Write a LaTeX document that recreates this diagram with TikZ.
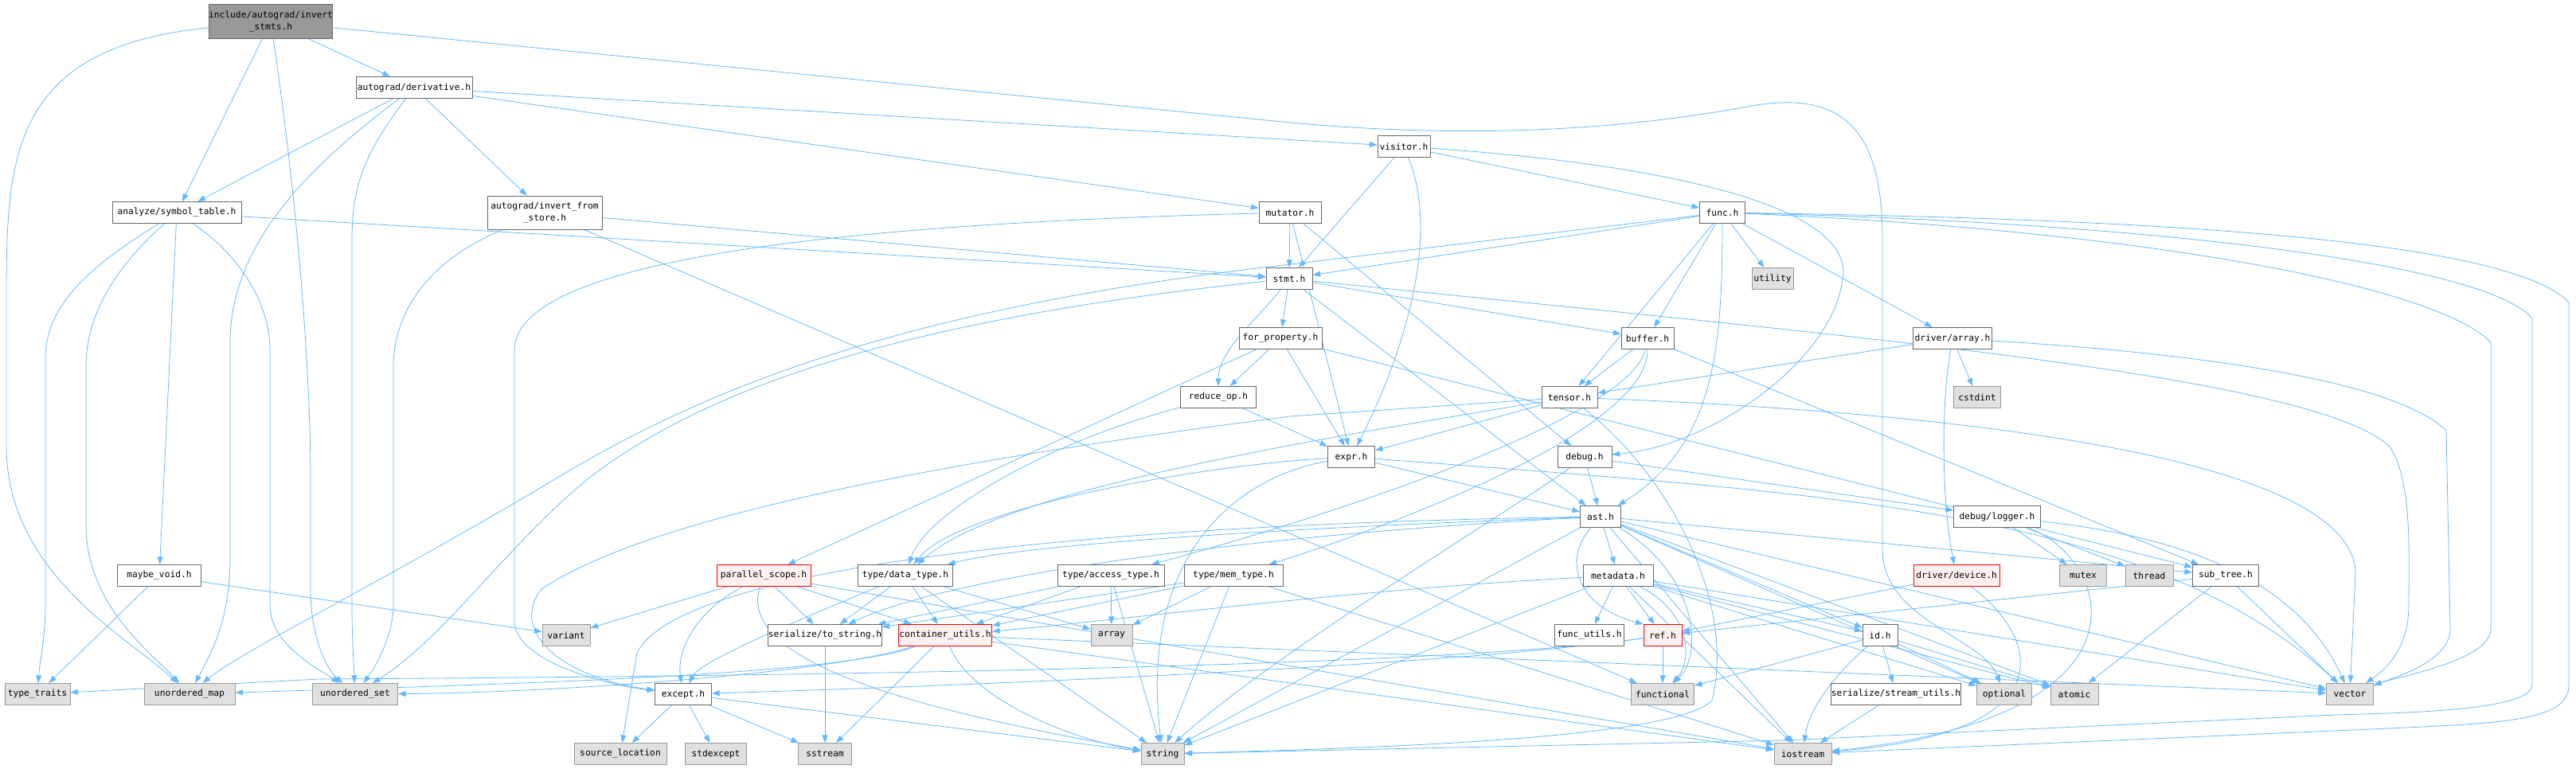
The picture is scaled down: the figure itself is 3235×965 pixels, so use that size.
\documentclass[tikz,border=0pt]{standalone}
\usepackage{fontspec}
\usepackage{tikz}
\usetikzlibrary{arrows.meta, backgrounds}
\newfontfamily\doxfont{DejaVu Sans Mono}
\definecolor{depblue}{HTML}{63B8FF}
\definecolor{boxline}{HTML}{666666}
\definecolor{sysline}{HTML}{999999}
\definecolor{sysfill}{HTML}{E0E0E0}
\definecolor{rootfill}{HTML}{999999}
\definecolor{hotfill}{HTML}{FFF0F0}

\begin{document}
\begin{tikzpicture}[x=0.02cm, y=-0.02cm,
    file/.style={draw=boxline, fill=white, line width=0.5pt, inner sep=0pt,
        minimum height=0.54cm, align=center, font=\doxfont\fontsize{6.4}{8.6}\selectfont},
    bw/.style={minimum width=#1*0.02cm},
    sys/.style={file, draw=sysline, fill=sysfill},
    hot/.style={file, draw=red, fill=hotfill},
    root/.style={file, fill=rootfill, minimum height=0.86cm},
    dep/.style={-{Triangle[length=5.5pt, width=4pt]}, draw=depblue, line width=0.45pt}]
    \useasboundingbox (0,0) rectangle (3235,965);

    % Top part
    \node[root, bw=155] (root) at (340,27) {include/autograd/invert\\\_stmts.h};
    \node[file, bw=146] (deriv) at (520,110) {autograd/derivative.h};
    \node[file, bw=66] (visitor) at (1763,184) {visitor.h};
    \node[file, bw=162] (symtab) at (222,267) {analyze/symbol\_table.h};
    \node[file, bw=144, minimum height=0.84cm] (invstore) at (684,267) {autograd/invert\_from\\\_store.h};
    \node[file, bw=78] (mutator) at (1620,267) {mutator.h};
    \node[file, bw=57] (func) at (2163,267) {func.h};
    \node[file, bw=58] (stmt) at (1619,350) {stmt.h};
    \node[sys, bw=52] (utility) at (2226,350) {utility};
    \node[file, bw=104] (forprop) at (1608,425) {for\_property.h};
    \node[file, bw=66] (buffer) at (2069,425) {buffer.h};
    \node[file, bw=99] (drvarray) at (2452,425) {driver/array.h};

    % Middle part
    \node[file, bw=95] (reduceop) at (1530,499) {reduce\_op.h};
    \node[file, bw=70] (tensor) at (1971,499) {tensor.h};
    \node[sys, bw=59] (cstdint) at (2483,499) {cstdint};
    \node[file, bw=59] (expr) at (1697,574) {expr.h};
    \node[file, bw=68] (debug) at (1990,574) {debug.h};
    \node[file, bw=51] (ast) at (2010,649) {ast.h};
    \node[file, bw=109] (logger) at (2508,649) {debug/logger.h};
    \node[file, bw=105] (maybevoid) at (200,723) {maybe\_void.h};
    \node[hot, bw=118] (parscope) at (959,723) {parallel\_scope.h};
    \node[file, bw=119] (datatype) at (1137,723) {type/data\_type.h};
    \node[file, bw=134] (accesstype) at (1395,723) {type/access\_type.h};
    \node[file, bw=124] (memtype) at (1549,723) {type/mem\_type.h};
    \node[file, bw=88] (metadata) at (2032,723) {metadata.h};
    \node[hot, bw=108] (device) at (2457,723) {driver/device.h};
    \node[sys, bw=59] (mutex) at (2616,723) {mutex};
    \node[sys, bw=60] (thread) at (2699,723) {thread};
    \node[file, bw=83] (subtree) at (2795,723) {sub\_tree.h};
    \node[sys, bw=60] (variant) at (711,798) {variant};
    \node[file, bw=137] (tostring) at (1036,798) {serialize/to\_string.h};
    \node[hot, bw=117] (contutils) at (1187,798) {container\_utils.h};
    \node[sys, bw=52] (array) at (1396,798) {array};
    \node[file, bw=87] (funcutils) at (1996,798) {func\_utils.h};
    \node[hot, bw=48] (ref) at (2088,798) {ref.h};
    \node[file, bw=44] (id) at (2361,798) {id.h};

    % Bottom part
    \node[sys, bw=82] (typetraits) at (47,872) {type\_traits};
    \node[sys, bw=114] (umap) at (238,872) {unordered\_map};
    \node[sys, bw=107] (uset) at (446,872) {unordered\_set};
    \node[file, bw=71] (except) at (858,872) {except.h};
    \node[sys, bw=79] (functional) at (2088,872) {functional};
    \node[file, bw=156] (streamutils) at (2381,872) {serialize/stream\_utils.h};
    \node[sys, bw=69] (optional) at (2517,872) {optional};
    \node[sys, bw=60] (atomic) at (2605,872) {atomic};
    \node[sys, bw=59] (vector) at (2951,872) {vector};
    \node[sys, bw=116] (srcloc) at (779,947) {source\_location};
    \node[sys, bw=77] (stdexcept) at (899,947) {stdexcept};
    \node[sys, bw=67] (sstream) at (1036,947) {sstream};
    \node[sys, bw=54] (string) at (1460,947) {string};
    \node[sys, bw=72] (iostream) at (2264,947) {iostream};

    \begin{pgfonlayer}{background}
    % invert_stmts.h
    \draw[dep] (root) -- (deriv);
    \draw[dep] (root) -- (symtab);
    \draw[dep] (root) .. controls (380,300) and (390,500) .. (390,600) -- (390,740) .. controls (390,800) and (410,840) .. (uset);
    \draw[dep] (root) .. controls (10,60) and (8,200) .. (8,380) -- (8,560) .. controls (8,720) and (160,800) .. (umap);
    \draw[dep] (root) -- (1600,152) .. controls (1800,172) and (2000,170) .. (2200,133) .. controls (2320,112) and (2364,170) .. (2364,300) -- (2364,690) .. controls (2364,780) and (2490,800) .. (optional);

    % autograd/derivative.h
    \draw[dep] (deriv) -- (symtab);
    \draw[dep] (deriv) -- (invstore);
    \draw[dep] (deriv) -- (visitor);
    \draw[dep] (deriv) -- (mutator);
    \draw[dep] (deriv) .. controls (400,200) and (289,300) .. (289,430) -- (289,700) .. controls (289,780) and (265,820) .. (umap);
    \draw[dep] (deriv) .. controls (460,190) and (442,230) .. (442,300) -- (442,760) .. controls (442,800) and (444,830) .. (uset);

    % analyze/symbol_table.h
    \draw[dep] (symtab) -- (maybevoid);
    \draw[dep] (symtab) -- (stmt);
    \draw[dep] (symtab) .. controls (120,330) and (57,380) .. (57,450) -- (57,760) .. controls (57,800) and (50,830) .. (typetraits);
    \draw[dep] (symtab) .. controls (140,340) and (108,400) .. (108,460) -- (108,660) .. controls (108,760) and (190,820) .. (umap);
    \draw[dep] (symtab) .. controls (300,320) and (339,380) .. (339,440) -- (339,760) .. controls (339,810) and (400,840) .. (uset);

    % autograd/invert_from_store.h
    \draw[dep] (invstore) -- (functional);
    \draw[dep] (invstore) -- (stmt);
    \draw[dep] (invstore) .. controls (530,330) and (494,400) .. (494,460) -- (494,760) .. controls (494,800) and (470,840) .. (uset);

    % mutator.h, visitor.h
    \draw[dep] (mutator) -- (stmt);
    \draw[dep] (mutator) -- (expr);
    \draw[dep] (mutator) -- (debug);
    \draw[dep] (mutator) .. controls (1100,280) and (646,320) .. (646,440) -- (646,780) .. controls (646,830) and (760,860) .. (except);
    \draw[dep] (visitor) -- (func);
    \draw[dep] (visitor) -- (stmt);
    \draw[dep] (visitor) .. controls (1810,300) and (1760,450) .. (expr);
    \draw[dep] (visitor) .. controls (2000,200) and (2310,240) .. (2315,340) .. controls (2310,450) and (2150,560) .. (debug);

    % func.h
    \draw[dep] (func) -- (stmt);
    \draw[dep] (func) -- (tensor);
    \draw[dep] (func) -- (buffer);
    \draw[dep] (func) .. controls (2163,450) and (2150,560) .. (ast);
    \draw[dep] (func) -- (utility);
    \draw[dep] (func) -- (drvarray);
    \draw[dep] (func) -- (1620,332) .. controls (1150,385) and (900,480) .. (700,600) .. controls (500,720) and (300,820) .. (umap);
    \draw[dep] (func) .. controls (2700,290) and (3060,360) .. (3128,430) -- (3128,790) .. controls (3128,830) and (3010,850) .. (vector);
    \draw[dep] (func) .. controls (2700,275) and (3150,300) .. (3226,380) -- (3226,860) .. controls (3226,905) and (3150,908) .. (3000,915) -- (iostream);
    \draw[dep] (func) .. controls (2700,280) and (3120,330) .. (3180,400) -- (3180,860) .. controls (3180,890) and (3050,895) .. (2933,898) -- (2240,930) -- (string);

    % stmt.h
    \draw[dep] (stmt) -- (forprop);
    \draw[dep] (stmt) .. controls (1580,400) and (1530,440) .. (reduceop);
    \draw[dep] (stmt) -- (buffer);
    \draw[dep] (stmt) -- (ast);
    \draw[dep] (stmt) .. controls (2300,420) and (2900,470) .. (3000,560) .. controls (3030,600) and (3025,700) .. (3025,760) .. controls (3025,820) and (2990,845) .. (vector);
    \draw[dep] (stmt) .. controls (1150,400) and (900,480) .. (744,597) .. controls (640,680) and (560,800) .. (uset);

    % for_property.h, reduce_op.h
    \draw[dep] (forprop) -- (reduceop);
    \draw[dep] (forprop) -- (expr);
    \draw[dep] (forprop) -- (parscope);
    \draw[dep] (forprop) -- (subtree);
    \draw[dep] (reduceop) -- (expr);
    \draw[dep] (reduceop) .. controls (1300,560) and (1160,650) .. (datatype);

    % tensor.h, buffer.h
    \draw[dep] (tensor) -- (expr);
    \draw[dep] (tensor) .. controls (1600,560) and (1250,620) .. (datatype);
    \draw[dep] (tensor) .. controls (2100,600) and (2180,760) .. (2150,880) .. controls (2100,930) and (1700,940) .. (string);
    \draw[dep] (tensor) .. controls (2500,520) and (2955,580) .. (2958,720) -- (vector);
    \draw[dep] (tensor) -- (1620,523) .. controls (1100,590) and (800,660) .. (680,740) .. controls (640,790) and (700,850) .. (except);
    \draw[dep] (buffer) -- (tensor);
    \draw[dep] (buffer) -- (subtree);
    \draw[dep] (buffer) .. controls (2050,520) and (1700,640) .. (accesstype);
    \draw[dep] (buffer) .. controls (2070,540) and (1750,660) .. (memtype);

    % driver/array.h
    \draw[dep] (drvarray) -- (tensor);
    \draw[dep] (drvarray) -- (cstdint);
    \draw[dep] (drvarray) .. controls (2436,520) and (2440,640) .. (device);
    \draw[dep] (drvarray) .. controls (2700,440) and (3000,470) .. (3072,541) -- (3077,790) .. controls (3077,830) and (3010,850) .. (vector);

    % expr.h, debug.h
    \draw[dep] (expr) -- (ast);
    \draw[dep] (expr) .. controls (1500,585) and (1200,640) .. (datatype);
    \draw[dep] (expr) .. controls (1550,600) and (1430,700) .. (string);
    \draw[dep] (expr) .. controls (2300,620) and (2700,640) .. (vector);
    \draw[dep] (debug) -- (ast);
    \draw[dep] (debug) -- (logger);
    \draw[dep] (debug) .. controls (1900,640) and (1600,820) .. (string);

    % ast.h
    \draw[dep] (ast) -- (metadata);
    \draw[dep] (ast) .. controls (1965,700) and (1975,760) .. (ref.north west);
    \draw[dep] (ast) -- (id);
    \draw[dep] (ast) .. controls (2130,720) and (2140,820) .. (functional);
    \draw[dep] (ast) -- (iostream);
    \draw[dep] (ast) -- (string);
    \draw[dep] (ast) -- (optional);
    \draw[dep] (ast) -- (atomic);
    \draw[dep] (ast) -- (vector);
    \draw[dep] (ast) -- (subtree);
    \draw[dep] (ast) .. controls (1700,660) and (1300,680) .. (datatype);
    \draw[dep] (ast) .. controls (1600,670) and (1200,720) .. (tostring);
    \draw[dep] (ast) .. controls (1300,660) and (850,720) .. (800,820) -- (srcloc);

    % debug/logger.h, metadata.h
    \draw[dep] (logger) -- (mutex);
    \draw[dep] (logger) -- (thread);
    \draw[dep] (logger) .. controls (2800,680) and (2900,760) .. (vector);
    \draw[dep] (logger) .. controls (2650,700) and (2720,900) .. (iostream);
    \draw[dep] (metadata) -- (funcutils);
    \draw[dep] (metadata) -- (ref);
    \draw[dep] (metadata) .. controls (2125,770) and (2125,830) .. (functional);
    \draw[dep] (metadata) -- (id);
    \draw[dep] (metadata) -- (optional);
    \draw[dep] (metadata) -- (atomic);
    \draw[dep] (metadata) -- (vector);
    \draw[dep] (metadata) -- (iostream);
    \draw[dep] (metadata) -- (string);
    \draw[dep] (metadata) .. controls (1700,740) and (1400,780) .. (contutils);

    % ref.h, id.h, sub_tree.h, driver/device.h
    \draw[dep] (ref) -- (functional);
    \draw[dep] (ref) .. controls (1800,840) and (900,850) .. (400,853) -- (typetraits);
    \draw[dep] (ref) .. controls (1800,840) and (1100,865) .. (except);
    \draw[dep] (id) -- (functional);
    \draw[dep] (id) -- (optional);
    \draw[dep] (id) -- (atomic);
    \draw[dep] (id) -- (streamutils);
    \draw[dep] (id) .. controls (2290,860) and (2270,900) .. (iostream);
    \draw[dep] (streamutils) -- (iostream);
    \draw[dep] (subtree) -- (ref);
    \draw[dep] (subtree) -- (atomic);
    \draw[dep] (subtree) -- (vector);
    \draw[dep] (device) -- (ref);
    \draw[dep] (device) .. controls (2560,800) and (2600,920) .. (iostream);

    % type headers and parallel_scope.h
    \draw[dep] (parscope) -- (variant);
    \draw[dep] (parscope) -- (tostring);
    \draw[dep] (parscope) -- (contutils);
    \draw[dep] (parscope) .. controls (870,770) and (850,820) .. (except);
    \draw[dep] (parscope) .. controls (920,840) and (1200,900) .. (string);
    \draw[dep] (parscope) -- (iostream);
    \draw[dep] (datatype) -- (tostring);
    \draw[dep] (datatype) -- (contutils);
    \draw[dep] (datatype) .. controls (1000,780) and (880,830) .. (except);
    \draw[dep] (datatype) -- (array);
    \draw[dep] (datatype) -- (string);
    \draw[dep] (accesstype) -- (array);
    \draw[dep] (accesstype) -- (string);
    \draw[dep] (accesstype) -- (tostring);
    \draw[dep] (accesstype) -- (contutils);
    \draw[dep] (memtype) -- (array);
    \draw[dep] (memtype) -- (string);
    \draw[dep] (memtype) -- (tostring);
    \draw[dep] (memtype) -- (contutils);
    \draw[dep] (memtype) -- (iostream);

    % container_utils.h and the rest
    \draw[dep] (contutils) .. controls (1050,850) and (600,860) .. (umap);
    \draw[dep] (contutils) .. controls (1050,845) and (700,870) .. (uset);
    \draw[dep] (contutils) -- (sstream);
    \draw[dep] (contutils) .. controls (1220,880) and (1350,930) .. (string);
    \draw[dep] (contutils) -- (iostream);
    \draw[dep] (contutils) -- (vector);
    \draw[dep] (tostring) -- (sstream);
    \draw[dep] (except) -- (srcloc);
    \draw[dep] (except) -- (stdexcept);
    \draw[dep] (except) -- (sstream);
    \draw[dep] (except) -- (string);
    \draw[dep] (maybevoid) -- (typetraits);
    \draw[dep] (maybevoid) -- (variant);
    \end{pgfonlayer}
\end{tikzpicture}
\end{document}
